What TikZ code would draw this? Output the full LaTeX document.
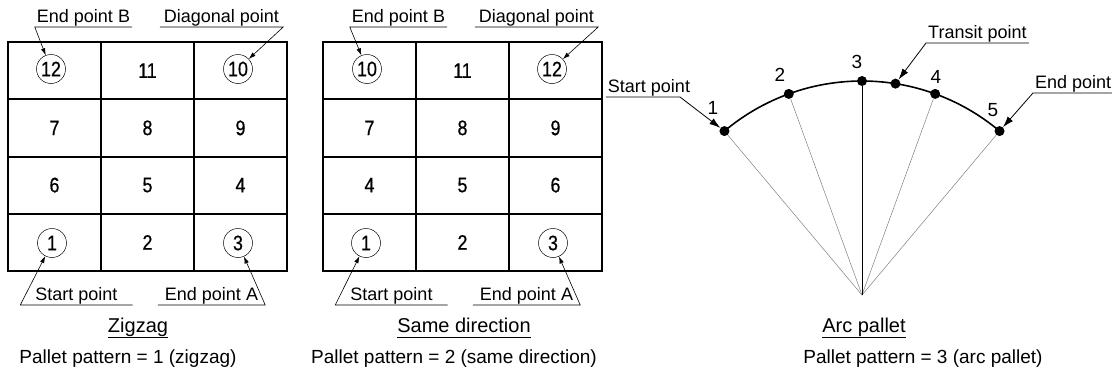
\documentclass[tikz,border=0pt]{standalone}
\usepackage{fontspec}
\setmainfont{Liberation Sans}
\newfontfamily\cifras[FakeStretch=0.85,FakeBold=0.6]{Liberation Sans}
\usepackage{tikz}
\usetikzlibrary{arrows.meta,positioning}
\tikzset{
  rejilla/.style={line width=2pt},
  celda/.style={font=\cifras\fontsize{21}{24}\selectfont,inner sep=0pt},
  celdac/.style={celda,circle,draw,line width=0.5pt,minimum size=29pt},
  rotulo/.style={font=\fontsize{18}{20}\selectfont,inner ysep=1pt,inner xsep=2pt,anchor=south},
  guia/.style={{Latex[length=7pt,width=4.5pt]}-,line width=0.6pt},
  flechon/.style={-{Latex[length=11pt,width=7pt]},line width=0.8pt},
  punto/.style={circle,fill=black,inner sep=0pt,minimum size=10pt},
  radio/.style={line width=0.5pt,gray},
  arco/.style={line width=1.6pt},
  titulo/.style={font=\fontsize{20}{22}\selectfont,inner xsep=0pt,inner ysep=0pt,anchor=base},
  pie/.style={font=\fontsize{19}{22}\selectfont,anchor=base},
  numero/.style={font=\fontsize{19}{20}\selectfont,inner sep=0pt},
  subrayado/.style={line width=1.3pt},
}

\begin{document}
\begin{tikzpicture}[x=1pt,y=1pt]
  \useasboundingbox (0,0) rectangle (1112,-378);
  % las dos rejillas
  \foreach \dx in {0,315}{
    \draw[rejilla] (8+\dx,-42) rectangle (287+\dx,-271);
    \draw[rejilla] (101+\dx,-42) -- (101+\dx,-271) (194+\dx,-42) -- (194+\dx,-271);
    \foreach \y in {99.25,156.5,213.75} \draw[rejilla] (8+\dx,-\y) -- (287+\dx,-\y);
  }
  % zigzag
  \node[celdac] (z12) at (51,-69) {12};
  \node[celdac] (z10) at (238,-69) {10};
  \node[celdac] (z1) at (52,-243) {1};
  \node[celdac] (z3) at (238,-243) {3};
  \foreach \n/\x/\y in {11/147.5/70.6, 7/54.5/127.9, 8/147.5/127.9, 9/240.5/127.9, 6/54.5/185.1, 5/147.5/185.1, 4/240.5/185.1, 2/147.5/242.4}
    \node[celda] (z\n) at (\x,-\y) {\n};
  \node[rotulo] (zB) at (83.5,-27) {End point B};
  \node[rotulo,inner xsep=4pt] (zD) at (221.5,-27) {Diagonal point};
  \node[rotulo,inner xsep=15pt] (zS) at (76.5,-305) {Start point};
  \node[rotulo,inner xsep=7pt] (zA) at (211.5,-305) {End point A};
  \draw[guia] (z12) -- (zB.south west) -- (zB.south east);
  \draw[guia] (z10) -- (zD.south east) -- (zD.south west);
  \draw[guia] (z1) -- (zS.south west) -- (zS.south east);
  \draw[guia] (z3) -- (zA.south east) -- (zA.south west);
  % misma direccion
  \node[celdac] (m10) at (367,-69) {10};
  \node[celdac] (m12) at (552,-69) {12};
  \node[celdac] (m1) at (366,-243) {1};
  \node[celdac] (m3) at (553,-243) {3};
  \foreach \n/\x/\y in {11/462.5/70.6, 7/369.5/127.9, 8/462.5/127.9, 9/555.5/127.9, 4/369.5/185.1, 5/462.5/185.1, 6/555.5/185.1, 2/462.5/242.4}
    \node[celda] (m\n) at (\x,-\y) {\n};
  \node[rotulo] (mB) at (398.5,-27) {End point B};
  \node[rotulo,inner xsep=4pt] (mD) at (536.5,-27) {Diagonal point};
  \node[rotulo,inner xsep=15pt] (mS) at (391.5,-305) {Start point};
  \node[rotulo,inner xsep=7pt] (mA) at (526.5,-305) {End point A};
  \draw[guia] (m10) -- (mB.south west) -- (mB.south east);
  \draw[guia] (m12) -- (mD.south east) -- (mD.south west);
  \draw[guia] (m1) -- (mS.south west) -- (mS.south east);
  \draw[guia] (m3) -- (mA.south east) -- (mA.south west);
  % paleta en arco
  \begin{scope}[shift={(862,-295)}]
    \coordinate (O) at (0,0);
    \node[punto] (a1) at (130:214) {};
    \node[punto] (a2) at (110:214) {};
    \node[punto] (a3) at (90:214) {};
    \node[punto] (at) at (81:214) {};
    \node[punto] (a4) at (70:214) {};
    \node[punto] (a5) at (50:214) {};
  \end{scope}
  \node[numero] (n1) at (713,-108) {1};
  \node[numero] (n2) at (780,-75) {2};
  \node[numero] (n3) at (857,-62) {3};
  \node[numero] (n4) at (936,-77) {4};
  \node[numero] (n5) at (993,-110) {5};
  \foreach \p in {a1,a2,a4,a5} \draw[radio] (O) -- (\p);
  \draw[line width=0.7pt] (O) -- (a3);
  \draw[arco] (a1.center) arc[start angle=130,end angle=50,radius=214];
  \node[rotulo] (ap) at (649,-97) {Start point};
  \coordinate (apk) at (680,-97);
  \draw[flechon] (ap.south west) -- (apk) -- (a1);
  \node[rotulo,anchor=south west] (tp) at (926,-43) {Transit point};
  \draw[flechon] (tp.south east) -- (tp.south west) -- (at);
  \node[rotulo,anchor=south west] (ep) at (1033,-93) {End point};
  \draw[flechon] (ep.south east) -- (ep.south west) -- (a5);
  % titulos
  \node[titulo] (tz) at (138,-332) {Zigzag};
  \node[titulo] (tm) at (464,-332) {Same direction};
  \node[titulo] (ta) at (864,-332) {Arc pallet};
  \draw[subrayado] ([yshift=-5.5pt]tz.base west) -- ([yshift=-5.5pt]tz.base east);
  \draw[subrayado] ([yshift=-5.5pt]tm.base west) -- ([yshift=-5.5pt]tm.base east);
  \draw[subrayado] ([yshift=-5.5pt]ta.base west) -- ([yshift=-5.5pt]ta.base east);
  \node[pie] (pz) at (128,-363) {Pallet pattern = 1 (zigzag)};
  \node[pie] (pm) at (454,-363) {Pallet pattern = 2 (same direction)};
  \node[pie] (pa) at (923,-363) {Pallet pattern = 3 (arc pallet)};
\end{tikzpicture}
\end{document}
